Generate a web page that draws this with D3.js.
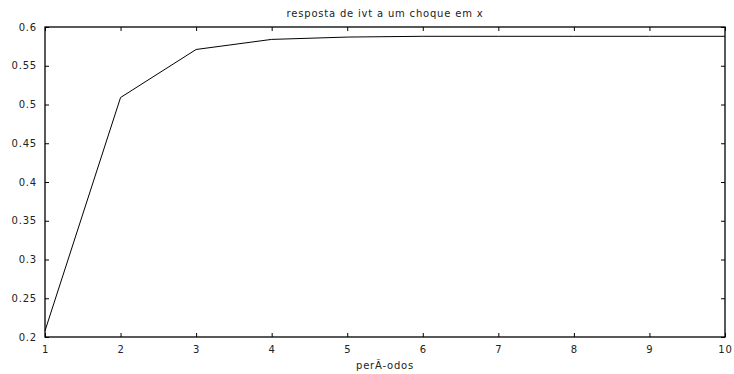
<!DOCTYPE html>
<html>
<head>
<meta charset="utf-8">
<script src="https://cdn.jsdelivr.net/npm/d3@7"></script>
<style>
  body { margin: 0; background: #fff; }
  text { font-family: 'DejaVu Sans', sans-serif; font-size: 10px; letter-spacing: 0.8px; fill: #222; }
</style>
</head>
<body>
<div id="chart"></div>
<script>
// impulse response data
const periods = [1, 2, 3, 4, 5, 6, 7, 8, 9, 10];
const response = [0.208, 0.509, 0.571, 0.584, 0.587, 0.588, 0.588, 0.588, 0.588, 0.588];
const xTicks = [1, 2, 3, 4, 5, 6, 7, 8, 9, 10];
const yTicks = [0.2, 0.25, 0.3, 0.35, 0.4, 0.45, 0.5, 0.55, 0.6];
const title = 'resposta de ivt a um choque em x';
const xLabel = 'perÃ-odos';

const width = 734, height = 374;
const margin = {top: 27, right: 9, bottom: 37, left: 45};
const w = width - margin.left - margin.right,
  h = height - margin.top - margin.bottom;

const svg = d3.select('#chart').append('svg')
  .attr('width', width)
  .attr('height', height);

const g = svg.append('g')
  .attr('transform', `translate(${margin.left},${margin.top})`);

const x = d3.scaleLinear().domain([1, 10]).range([0, w]);
const y = d3.scaleLinear().domain([0.2, 0.6]).range([h, 0]);

const fmt = d => String(+d.toFixed(2));

// bottom axis with labels, inward ticks
g.append('g')
  .attr('transform', `translate(0,${h})`)
  .call(d3.axisBottom(x).tickValues(xTicks).tickSizeInner(-4).tickSizeOuter(0).tickPadding(9).tickFormat(fmt))
  .call(a => a.select('.domain').remove());

// top mirror ticks
g.append('g')
  .call(d3.axisTop(x).tickValues(xTicks).tickSizeInner(-4).tickSizeOuter(0).tickFormat(''))
  .call(a => a.select('.domain').remove());

// left axis
g.append('g')
  .call(d3.axisLeft(y).tickValues(yTicks).tickSizeInner(-4).tickSizeOuter(0).tickPadding(8).tickFormat(fmt))
  .call(a => a.select('.domain').remove());

// right mirror ticks
g.append('g')
  .attr('transform', `translate(${w},0)`)
  .call(d3.axisRight(y).tickValues(yTicks).tickSizeInner(-4).tickSizeOuter(0).tickFormat(''))
  .call(a => a.select('.domain').remove());

g.selectAll('.tick line').attr('stroke', '#000');
g.selectAll('.tick text').attr('fill', '#222').style('font-family', "'DejaVu Sans', sans-serif").style('font-size', '10px');

// frame
g.append('rect')
  .attr('width', w)
  .attr('height', h)
  .attr('fill', 'none')
  .attr('stroke', '#000')
  .attr('stroke-width', 1.3);

// line
const line = d3.line()
  .x((d, i) => x(periods[i]))
  .y(d => y(d));

g.append('path')
  .datum(response)
  .attr('fill', 'none')
  .attr('stroke', '#000')
  .attr('stroke-width', 1)
  .attr('d', line);

svg.append('text')
  .attr('x', margin.left + w / 2)
  .attr('y', 17)
  .attr('text-anchor', 'middle')
  .text(title);

svg.append('text')
  .attr('x', margin.left + w / 2)
  .attr('y', 369)
  .attr('text-anchor', 'middle')
  .text(xLabel);
</script>
</body>
</html>
